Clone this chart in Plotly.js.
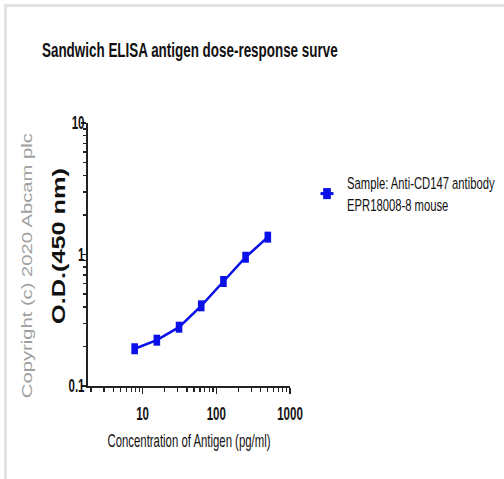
<!DOCTYPE html>
<html>
<head>
<meta charset="utf-8">
<script src="https://cdn.plot.ly/plotly-3.0.1.min.js"></script>
<style>
html,body{margin:0;padding:0;background:#fff;}
#wrap{position:relative;width:504px;height:479px;}
#frame{position:absolute;left:4px;top:4px;width:500px;height:475px;border-top:3px solid #e3e3e3;border-left:3px solid #e3e3e3;box-sizing:border-box;pointer-events:none;z-index:5;}
#chart{position:absolute;left:0;top:0;width:504px;height:479px;}
</style>
</head>
<body>
<div id="wrap"><div id="chart"></div><div id="frame"></div></div>
<script>
const concentration = [7.8125, 15.625, 31.25, 62.5, 125, 250, 500];
const od = [0.192, 0.223, 0.280, 0.407, 0.623, 0.953, 1.355];
const seriesName = "Sample: Anti-CD147 antibody<br>EPR18008-8 mouse";
const xTickVals = [10, 100, 1000];
const xTickText = ["10", "100", "1000"];
const xMinorVals = [2, 3, 4, 5, 6, 7, 8, 9, 20, 30, 40, 50, 60, 70, 80, 90, 200, 300, 400, 500, 600, 700, 800, 900];
const yTickVals = [0.1, 1, 10];
const yTickText = ["0.1", "1", "10"];
const yMinorVals = [0.2, 0.3, 0.4, 0.5, 0.6, 0.7, 0.8, 0.9, 2, 3, 4, 5, 6, 7, 8, 9];

const sans = "Liberation Sans, Arial, sans-serif";
const blue = "#0a10e8";

const trace = {
  x: concentration,
  y: od,
  name: seriesName,
  type: "scatter",
  mode: "lines+markers",
  line: {color: blue, width: 2.5},
  marker: {symbol: "square", size: 11, color: blue},
  showlegend: true
};

const layout = {
  width: 504,
  height: 479,
  margin: {l: 88, r: 214, t: 123, b: 93, autoexpand: false},
  paper_bgcolor: "#ffffff",
  plot_bgcolor: "#ffffff",
  title: {
    text: "<b>Sandwich ELISA antigen dose-response surve</b>",
    font: {family: sans, size: 21, color: "#111"},
    x: 42/504, xanchor: "left", xref: "container",
    y: 1 - 50/479, yanchor: "middle", yref: "container"
  },
  xaxis: {
    type: "log",
    range: [0.26, 3.0],
    tickvals: xTickVals,
    ticktext: xTickText,
    ticks: "outside",
    ticklen: 6,
    tickwidth: 1.5,
    tickcolor: "#222",
    ticklabelstandoff: 4,
    showline: true,
    linecolor: "#222",
    linewidth: 2,
    showgrid: false,
    zeroline: false,
    tickfont: {family: sans, size: 18, color: "#111", weight: "bold"},
    minor: {tickmode: "array", tickvals: xMinorVals, ticks: "outside", ticklen: 4, tickwidth: 1.2, tickcolor: "#222", showgrid: false},
    title: {text: "Concentration of Antigen (pg/ml)", font: {family: sans, size: 18, color: "#111"}, standoff: 12}
  },
  yaxis: {
    type: "log",
    range: [-1, 1],
    tickvals: yTickVals,
    ticktext: yTickText,
    ticks: "outside",
    ticklen: 5,
    tickwidth: 1.5,
    tickcolor: "#222",
    showline: true,
    linecolor: "#222",
    linewidth: 2,
    showgrid: false,
    zeroline: false,
    tickfont: {family: sans, size: 18, color: "#111", weight: "bold"},
    minor: {tickmode: "array", tickvals: yMinorVals, ticks: "outside", ticklen: 3, tickwidth: 1.5, tickcolor: "#222", showgrid: false},
    title: {text: "<b>O.D.(450 nm)</b>", font: {family: sans, size: 18, color: "#111"}, standoff: 12}
  },
  legend: {
    x: (307 - 88) / 202, y: (386 - 165) / 263, xanchor: "left", yanchor: "top",
    font: {family: sans, size: 17, color: "#111"},
    bgcolor: "rgba(0,0,0,0)",
    itemwidth: 30
  },
  annotations: [{
    text: "Copyright (c) 2020 Abcam plc",
    xref: "paper", yref: "paper",
    x: (27 - 88) / 202, y: (386 - 265.5) / 263,
    xanchor: "center", yanchor: "middle",
    textangle: -90,
    showarrow: false,
    font: {family: sans, size: 14, color: "#a0a0a0"}
  }]
};

// horizontal condensing of text (the reference artwork is horizontally compressed)
// shift = move along the text, lift = move across it (both in the text's own frame)
function squeeze(el, factor, anchor, shift, lift) {
  const bb = el.getBBox();
  if (!bb.width) return;
  const ax = anchor === "start" ? bb.x : anchor === "end" ? bb.x + bb.width : bb.x + bb.width / 2;
  const t = el.getAttribute("transform") || "";
  el.setAttribute("transform", t + " translate(" + (ax + (shift || 0)) + "," + (lift || 0) + ") scale(" + factor + ",1) translate(" + (-ax) + ",0)");
}
function fit(el, target, anchor, shift, lift) {
  if (!el) return;
  const bb = el.getBBox();
  if (!bb.width) return;
  squeeze(el, target / bb.width, anchor, shift, lift);
}
function centerX(el) {
  const r = el.getBoundingClientRect();
  return r.left + r.width / 2;
}

Plotly.newPlot("chart", [trace], layout, {displayModeBar: false, staticPlot: true}).then(function (gd) {
  fit(gd.querySelector(".gtitle"), 296, "start");
  fit(gd.querySelector(".xtitle"), 163, "middle");
  const f = 0.64;
  gd.querySelectorAll(".xtick text").forEach(function (t) { squeeze(t, f, "middle"); });
  gd.querySelectorAll(".ytick text").forEach(function (t) {
    const r = t.getBoundingClientRect();
    squeeze(t, f, "end", 84.5 - r.right);
  });
  const yt = gd.querySelector(".ytitle");
  if (yt) {
    const dx = 59 - centerX(yt);
    fit(yt, 156, "middle", 8.5, dx);
  }
  fit(gd.querySelector(".annotation-text"), 265, "middle");
  const lt = gd.querySelector(".legendtext");
  if (lt) fit(lt, 148, "start");
  gd.querySelectorAll(".scatterlayer .point").forEach(function (p) {
    p.setAttribute("transform", (p.getAttribute("transform") || "") + " scale(0.6,1)");
  });
  gd.querySelectorAll(".legendpoints path").forEach(function (p) {
    p.setAttribute("transform", (p.getAttribute("transform") || "") + " scale(0.7,1)");
  });
  gd.querySelectorAll(".legendlines path").forEach(function (p) {
    p.setAttribute("d", "M13.5,0h13");
    p.style.strokeWidth = "3px";
  });
});
</script>
</body>
</html>
